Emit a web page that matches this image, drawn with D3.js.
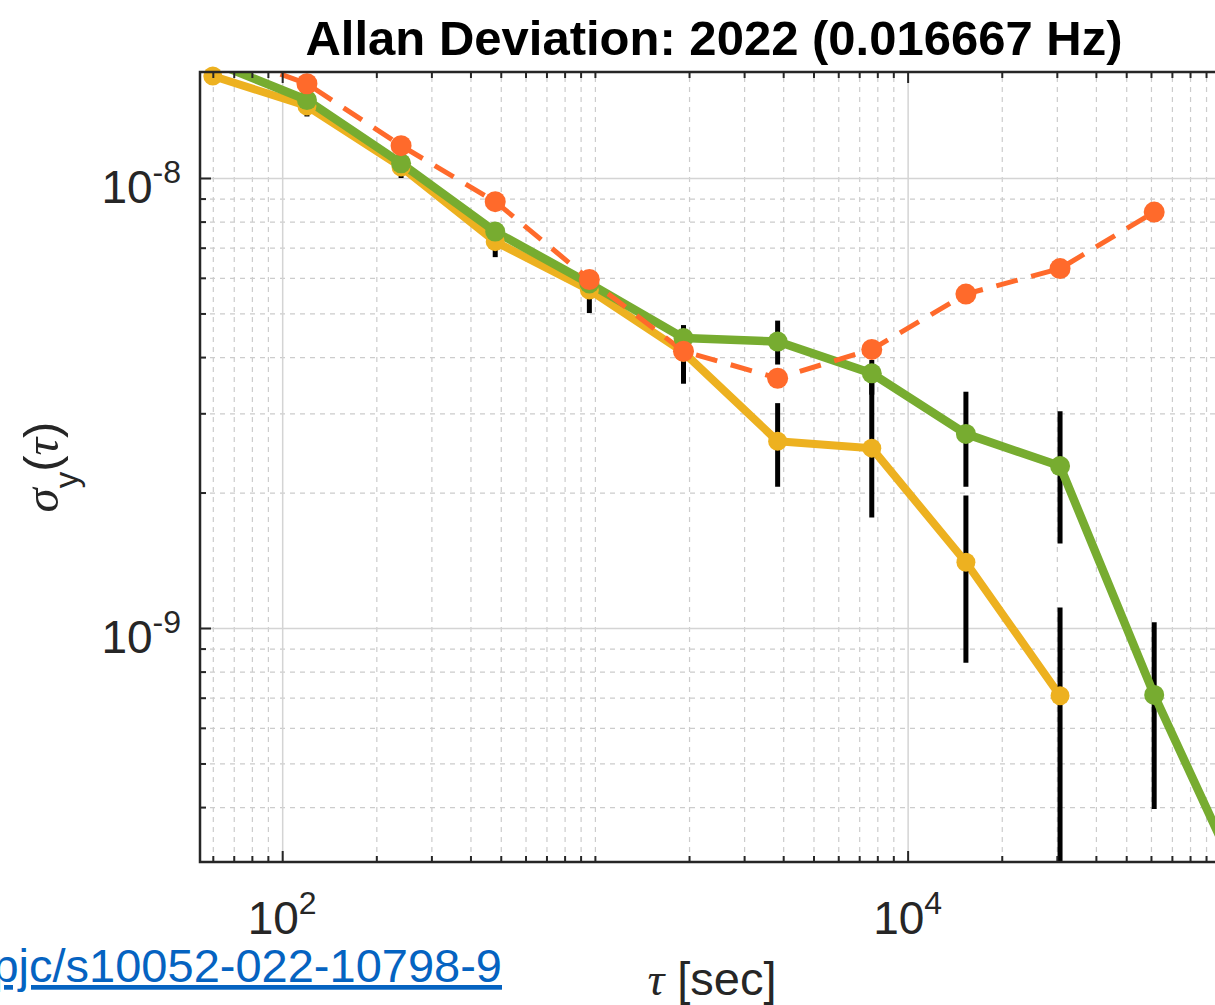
<!DOCTYPE html>
<html>
<head>
<meta charset="utf-8">
<style>
  body { margin: 0; background: #fff; }
  svg { display: block; font-family: "Liberation Sans", Arial, Helvetica, sans-serif; }
  .grid path, .ticks path { display: none; }
  .grid-major line { stroke: #d4d4d4; stroke-width: 1.5px; }
  .grid-minor line { stroke: #cccccc; stroke-width: 1.2px; stroke-dasharray: 5,5; }
  .ticks line { stroke: #262626; stroke-width: 2px; }
  .ticklabel { fill: #262626; font-size: 46px; }
  .frame { fill: none; stroke: #262626; stroke-width: 2.5px; }
</style>
<script src="https://d3js.org/d3.v7.min.js"></script>
</head>
<body>
<svg id="chart" width="1215" height="1005"></svg>
<script>
// averaging times (s), octave spacing from tau0 = 60 s
const tau = [60, 120, 240, 480, 960, 1920, 3840, 7680, 15360, 30720, 61440, 122880];

// yellow series (with error bars)
const yellowDev = [1.685e-8, 1.445e-8, 1.058e-8, 7.22e-9, 5.64e-9, 4.10e-9, 2.60e-9, 2.51e-9, 1.40e-9, 7.07e-10];
const yellowLo  = [1.63e-8, 1.37e-8, 1.0e-8, 6.67e-9, 5.01e-9, 3.49e-9, 2.06e-9, 1.76e-9, 8.37e-10, 1e-11];
const yellowHi  = [1.74e-8, 1.514e-8, 1.108e-8, 7.74e-9, 6.18e-9, 4.71e-9, 3.16e-9, 3.56e-9, 1.97e-9, 1.11e-9];

// green series (with error bars)
const greenDev = [1.81e-8, 1.49e-8, 1.078e-8, 7.60e-9, 5.83e-9, 4.41e-9, 4.33e-9, 3.68e-9, 2.70e-9, 2.29e-9, 7.10e-10, 2.50e-10];
const greenLo  = [1.75e-8, 1.45e-8, 1.04e-8, 7.3e-9, 5.55e-9, 4.15e-9, 3.85e-9, 3.30e-9, 2.06e-9, 1.54e-9, 3.96e-10, 1e-10];
const greenHi  = [1.87e-8, 1.53e-8, 1.11e-8, 7.9e-9, 6.1e-9, 4.7e-9, 4.82e-9, 3.94e-9, 3.35e-9, 3.03e-9, 1.03e-9, 4.5e-10];

// orange dashed series
const orangeDev = [1.93e-8, 1.62e-8, 1.18e-8, 8.86e-9, 5.95e-9, 4.12e-9, 3.59e-9, 4.16e-9, 5.52e-9, 6.29e-9, 8.40e-9];

// axes limits and labelled ticks
const xLim = [54.6, 105800];
const yLim = [3.02e-10, 1.72e-8];
const xMajor = [1e2, 1e4];
const xMajorLabels = [['10', '2'], ['10', '4']];
const yMajor = [1e-9, 1e-8];
const yMajorLabels = [['10', '-9'], ['10', '-8']];

const titleText = 'Allan Deviation: 2022 (0.016667 Hz)';
const linkText = 'https://doi.org/10.1140/epjc/s10052-022-10798-9';

const box = {left: 200, top: 72, right: 1228, bottom: 862};
const w = box.right - box.left, h = box.bottom - box.top;

const svg = d3.select('#chart');

const x = d3.scaleLog().domain(xLim).range([0, w]);
const y = d3.scaleLog().domain(yLim).range([h, 0]);

// minor ticks: every integer multiple inside each decade, minus the labelled ones
function minorTicks(lim, major) {
  const out = [];
  for (let e = Math.floor(Math.log10(lim[0])); e <= Math.ceil(Math.log10(lim[1])); e++) {
    for (let m = 1; m <= 9; m++) {
      const v = m * Math.pow(10, e);
      if (v >= lim[0] && v <= lim[1] && !major.some(t => Math.abs(t - v) / v < 1e-9)) out.push(v);
    }
  }
  return out;
}
const xMinor = minorTicks(xLim, xMajor);
const yMinor = minorTicks(yLim, yMajor);

const g = svg.append('g').attr('transform', `translate(${box.left},${box.top})`);

// grid
g.append('g').attr('class', 'grid grid-minor').attr('transform', `translate(0,${h})`)
  .call(d3.axisBottom(x).tickValues(xMinor).tickSize(-h).tickFormat(''));
g.append('g').attr('class', 'grid grid-minor')
  .call(d3.axisLeft(y).tickValues(yMinor).tickSize(-w).tickFormat(''));
g.append('g').attr('class', 'grid grid-major').attr('transform', `translate(0,${h})`)
  .call(d3.axisBottom(x).tickValues(xMajor).tickSize(-h).tickFormat(''));
g.append('g').attr('class', 'grid grid-major')
  .call(d3.axisLeft(y).tickValues(yMajor).tickSize(-w).tickFormat(''));

// clip for lines and bars
svg.append('defs').append('clipPath').attr('id', 'plotClip')
  .append('rect').attr('width', w).attr('height', h);
const data = g.append('g');
const clipped = data.append('g').attr('clip-path', 'url(#plotClip)');

function pts(vals) { return vals.map((v, i) => ({t: tau[i], v: v})); }
const line = d3.line().x(d => x(d.t)).y(d => y(d.v));
const inside = d => d.t >= xLim[0] && d.t <= xLim[1] && d.v >= yLim[0] && d.v <= yLim[1];

const yellowPts = pts(yellowDev), greenPts = pts(greenDev), orangePts = pts(orangeDev);

// yellow
clipped.append('path').datum(yellowPts)
  .attr('fill', 'none').attr('stroke', '#EDB120').attr('stroke-width', 8)
  .attr('stroke-linejoin', 'round').attr('d', line);
data.append('g').selectAll('circle').data(yellowPts.filter(inside)).join('circle')
  .attr('cx', d => x(d.t)).attr('cy', d => y(d.v)).attr('r', 9.5).attr('fill', '#EDB120');

// error bars
const bars = [];
yellowLo.forEach((lo, i) => bars.push({t: tau[i], lo: lo, hi: yellowHi[i]}));
greenLo.forEach((lo, i) => bars.push({t: tau[i], lo: lo, hi: greenHi[i]}));
clipped.append('g').selectAll('line').data(bars).join('line')
  .attr('x1', d => x(d.t)).attr('x2', d => x(d.t))
  .attr('y1', d => y(d.lo)).attr('y2', d => y(d.hi))
  .attr('stroke', '#000').attr('stroke-width', 5);

// green
clipped.append('path').datum(greenPts)
  .attr('fill', 'none').attr('stroke', '#77AC30').attr('stroke-width', 8.5)
  .attr('stroke-linejoin', 'round').attr('d', line);
data.append('g').selectAll('circle').data(greenPts.filter(inside)).join('circle')
  .attr('cx', d => x(d.t)).attr('cy', d => y(d.v)).attr('r', 10).attr('fill', '#77AC30');

// orange dashed
clipped.append('path').datum(orangePts)
  .attr('fill', 'none').attr('stroke', '#FF6A2B').attr('stroke-width', 5)
  .attr('stroke-dasharray', '22,14').attr('d', line);
data.append('g').selectAll('circle').data(orangePts.filter(inside)).join('circle')
  .attr('cx', d => x(d.t)).attr('cy', d => y(d.v)).attr('r', 10.5).attr('fill', '#FF6A2B');

// inward ticks on all four sides
function tickSet(axisFn, scale, vals, len, tr) {
  g.append('g').attr('class', 'ticks').attr('transform', tr)
    .call(axisFn(scale).tickValues(vals).tickSize(-len).tickFormat(''));
}
tickSet(d3.axisBottom, x, xMinor, 6, `translate(0,${h})`);
tickSet(d3.axisBottom, x, xMajor, 11, `translate(0,${h})`);
tickSet(d3.axisTop, x, xMinor, 6, 'translate(0,0)');
tickSet(d3.axisTop, x, xMajor, 11, 'translate(0,0)');
tickSet(d3.axisLeft, y, yMinor, 6, 'translate(0,0)');
tickSet(d3.axisLeft, y, yMajor, 11, 'translate(0,0)');
tickSet(d3.axisRight, y, yMinor, 6, `translate(${w},0)`);
tickSet(d3.axisRight, y, yMajor, 11, `translate(${w},0)`);

g.append('rect').attr('class', 'frame').attr('width', w).attr('height', h);

// tick labels as 10^n
function powLabel(sel, parts) {
  sel.append('tspan').text(parts[0]);
  sel.append('tspan').attr('dy', -20).attr('font-size', 32).text(parts[1]);
}
xMajor.forEach((v, i) => {
  g.append('text').attr('class', 'ticklabel').attr('text-anchor', 'middle')
    .attr('x', x(v)).attr('y', h + 72).call(powLabel, xMajorLabels[i]);
});
yMajor.forEach((v, i) => {
  g.append('text').attr('class', 'ticklabel').attr('text-anchor', 'end')
    .attr('x', -19).attr('y', y(v) + 25).call(powLabel, yMajorLabels[i]);
});

// title
svg.append('text').attr('x', (box.left + box.right) / 2).attr('y', 55)
  .attr('text-anchor', 'middle').attr('font-weight', 'bold').attr('font-size', 49)
  .attr('fill', '#000').text(titleText);

// x label: tau [sec]
const xl = svg.append('text').attr('x', (box.left + box.right) / 2 - 2).attr('y', 995)
  .attr('text-anchor', 'middle').attr('font-size', 47).attr('fill', '#262626');
xl.append('tspan').attr('font-family', '"Liberation Serif", "DejaVu Serif", serif').attr('font-style', 'italic').text('τ');
xl.append('tspan').text(' [sec]');

// y label: sigma_y(tau)
const yl = svg.append('text').attr('transform', `translate(58,${(box.top + box.bottom) / 2}) rotate(-90)`)
  .attr('text-anchor', 'middle').attr('font-size', 49).attr('fill', '#262626');
yl.append('tspan').attr('font-family', '"Liberation Serif", "DejaVu Serif", serif').attr('font-style', 'italic').text('σ');
yl.append('tspan').attr('font-size', 33).attr('dy', 20).text('y');
yl.append('tspan').attr('dy', -20).text('(');
yl.append('tspan').attr('font-family', '"Liberation Serif", "DejaVu Serif", serif').attr('font-style', 'italic').text('τ');
yl.append('tspan').text(')');

// source link, cut at the left edge
svg.append('text').attr('x', 502).attr('y', 982).attr('text-anchor', 'end')
  .attr('font-size', 47).attr('fill', '#0563C1').attr('text-decoration', 'underline')
  .text(linkText);
</script>
</body>
</html>
